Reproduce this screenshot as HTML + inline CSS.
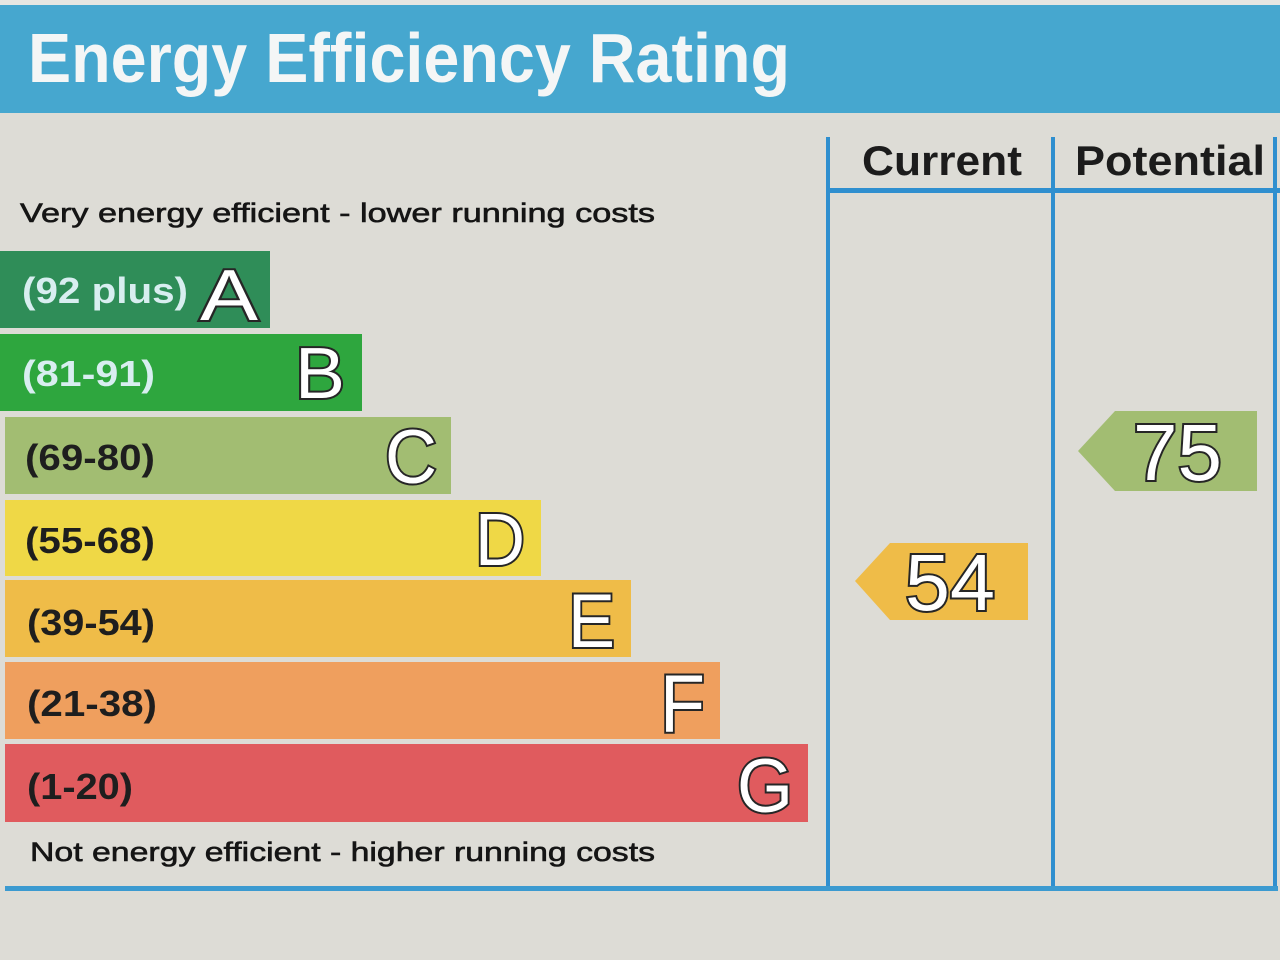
<!DOCTYPE html>
<html><head><meta charset="utf-8"><style>
html,body{margin:0;padding:0;background:#dddcd6;}
svg{display:block}
text{font-family:"Liberation Sans",Arial,sans-serif;}
.lt{fill:#fff;stroke:#262626;stroke-width:4;paint-order:stroke;font-weight:normal;}
.lb{font-weight:bold;font-size:36px;}
.cap{fill:#151515;stroke:#151515;stroke-width:0.6;}
</style></head><body>
<svg width="1280" height="960" viewBox="0 0 1280 960" xmlns="http://www.w3.org/2000/svg">
<rect x="0" y="0" width="1280" height="960" fill="#dddcd6"/>
<rect x="0" y="0" width="1280" height="5" fill="#e6e6e2"/>
<rect x="0" y="5" width="1280" height="108" fill="#46a7cf"/>
<text x="28" y="82" font-size="70" font-weight="bold" fill="#f4f6f6" textLength="762" lengthAdjust="spacingAndGlyphs">Energy Efficiency Rating</text>

<!-- grid lines -->
<rect x="826" y="137" width="4" height="753" fill="#2f8fcf"/>
<rect x="1051" y="137" width="4" height="753" fill="#2f8fcf"/>
<rect x="1273" y="137" width="4" height="753" fill="#2f8fcf"/>
<rect x="828" y="188" width="452" height="5" fill="#2f8fcf"/>
<rect x="5" y="886" width="1273" height="5" fill="#3b9ad0"/>

<text x="862" y="175" font-size="42" font-weight="bold" fill="#1c1c1c" textLength="160" lengthAdjust="spacingAndGlyphs">Current</text>
<text x="1075" y="175" font-size="42" font-weight="bold" fill="#1c1c1c" textLength="190" lengthAdjust="spacingAndGlyphs">Potential</text>

<text class="cap" x="20" y="222" font-size="27" textLength="635" lengthAdjust="spacingAndGlyphs">Very energy efficient - lower running costs</text>

<!-- bars -->
<rect x="0" y="251" width="270" height="77" fill="#2f8d58"/>
<rect x="0" y="334" width="362" height="77" fill="#2ea63e"/>
<rect x="5" y="417" width="446" height="77" fill="#a2bd72"/>
<rect x="5" y="500" width="536" height="76" fill="#efd846"/>
<rect x="5" y="580" width="626" height="77" fill="#efbc48"/>
<rect x="5" y="662" width="715" height="77" fill="#ef9f5e"/>
<rect x="5" y="744" width="803" height="78" fill="#e05b5e"/>

<text class="lb" x="22" y="303" fill="#d8eef0" textLength="166" lengthAdjust="spacingAndGlyphs">(92 plus)</text>
<text class="lb" x="22" y="386" fill="#d8eef0" textLength="133" lengthAdjust="spacingAndGlyphs">(81-91)</text>
<text class="lb" x="25" y="470" fill="#1e1e1e" textLength="130" lengthAdjust="spacingAndGlyphs">(69-80)</text>
<text class="lb" x="25" y="553" fill="#1e1e1e" textLength="130" lengthAdjust="spacingAndGlyphs">(55-68)</text>
<text class="lb" x="27" y="635" fill="#1e1e1e" textLength="128" lengthAdjust="spacingAndGlyphs">(39-54)</text>
<text class="lb" x="27" y="716" fill="#1e1e1e" textLength="130" lengthAdjust="spacingAndGlyphs">(21-38)</text>
<text class="lb" x="27" y="799" fill="#1e1e1e" textLength="106" lengthAdjust="spacingAndGlyphs">(1-20)</text>

<text class="lt" x="200" y="320" font-size="72" textLength="58" lengthAdjust="spacingAndGlyphs">A</text>
<text class="lt" x="295" y="398" font-size="72" textLength="50" lengthAdjust="spacingAndGlyphs">B</text>
<text class="lt" x="385" y="483" font-size="76" textLength="52" lengthAdjust="spacingAndGlyphs">C</text>
<text class="lt" x="475" y="565" font-size="74" textLength="50" lengthAdjust="spacingAndGlyphs">D</text>
<text class="lt" x="568" y="647" font-size="76" textLength="47" lengthAdjust="spacingAndGlyphs">E</text>
<text class="lt" x="660" y="732" font-size="82" textLength="45" lengthAdjust="spacingAndGlyphs">F</text>
<text class="lt" x="737" y="812" font-size="76" textLength="56" lengthAdjust="spacingAndGlyphs">G</text>

<text class="cap" x="30" y="861" font-size="27" textLength="625" lengthAdjust="spacingAndGlyphs">Not energy efficient - higher running costs</text>

<!-- arrows -->
<polygon points="855,581 890,543 1028,543 1028,620 890,620" fill="#efbc48"/>
<text class="lt" x="905" y="610" font-size="80" textLength="90" lengthAdjust="spacingAndGlyphs">54</text>
<polygon points="1078,451 1115,411 1257,411 1257,491 1115,491" fill="#a2bd72"/>
<text class="lt" x="1133" y="480" font-size="80" textLength="89" lengthAdjust="spacingAndGlyphs">75</text>
</svg>
</body></html>
